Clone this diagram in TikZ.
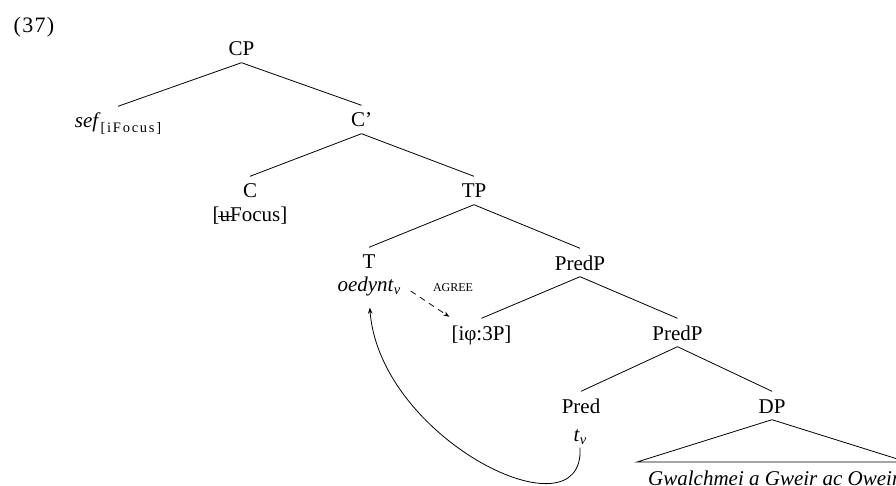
\documentclass[tikz,border=0pt]{standalone}
\usepackage{fontspec}
\setmainfont{Liberation Serif}
\newfontfamily\subfont[LetterSpace=12]{Liberation Serif}
\newfontfamily\exfont[LetterSpace=6]{Liberation Serif}
\usetikzlibrary{arrows.meta,calc}
\newcommand\fsz{\fontsize{21}{25}\selectfont}
\newcommand\struckU{\makebox[0pt][l]{\kern-0.08em\rule[0.23em]{0.66em}{0.06em}}u}
\newcommand\subv{\raisebox{-3.5pt}{\fontsize{14.5}{17}\selectfont\itshape v}}
\begin{document}
\begin{tikzpicture}[x=1pt,y=-1pt,
  lab/.style={anchor=base, inner xsep=1pt, inner ysep=2.5pt, text height=19pt, text depth=4pt, font=\fsz},
  feat/.style={anchor=base, inner xsep=1pt, inner ysep=2.5pt, text height=14pt, text depth=4pt, font=\fsz},
  branch/.style={line width=0.8pt},
  tip/.style={-{Stealth[length=6pt,width=4.5pt]}},
  ]
\useasboundingbox (0,0) rectangle (896,486);
\node[feat, font=\fontsize{22}{26}\exfont] (ex) at (34,33) {(37)};
\node[lab] (sef) at (118,128) {\textit{sef}\raisebox{-4.5pt}{\fontsize{14.5}{17}\subfont [iFocus]}};
\node[lab] (cp) at (241.5,56) {CP};
\node[lab] (cbar) at (361.5,127) {C’};
\node[lab] (c) at (250,198) {C};
\node[feat] (cf) at (250,222) {[\struckU Focus]};
\node[lab] (tp) at (474,198) {TP};
\node[lab] (t) at (369,269) {T};
\node[feat] (oed) at (369,291) {\textit{oedynt}\subv};
\node[lab] (predp) at (580,270) {PredP};
\node[lab] (phi) at (481.5,340) {[iφ:3P]};
\node[lab] (predp2) at (677.5,340) {PredP};
\node[lab] (pred) at (581,413) {Pred};
\node[feat] (tv) at (580,441) {\textit{t}\subv};
\node[lab] (dp) at (772,413) {DP};
\node[feat, anchor=base west, inner xsep=0pt] (gw) at (648,485) {\textit{Gwalchmei a Gweir ac Owein}};
\node[anchor=base, font=\fontsize{12}{14}\selectfont] (agr) at (453,291) {AGREE};
\coordinate (tl) at (637,462);
\coordinate (tr) at (907,462);
\draw[branch] (cp.south) -- (sef.north);
\draw[branch] (cp.south) -- (cbar.north);
\draw[branch] (cbar.south) -- (c.north);
\draw[branch] (cbar.south) -- (tp.north);
\draw[branch] (tp.south) -- (t.north);
\draw[branch] (tp.south) -- (predp.north);
\draw[branch] (predp.south) -- (phi.north);
\draw[branch] (predp.south) -- (predp2.north);
\draw[branch] (predp2.south) -- (pred.north);
\draw[branch] (predp2.south) -- (dp.north);
\draw[branch] (tl) -- (dp.south) -- (tr) -- cycle;
\draw[branch, tip, dash pattern=on 6pt off 5pt] ($(oed.east)+(9,5)$) -- ($(phi.north west)+(-1,-1.5)$);
\draw[branch, tip, shorten >=10pt] (tv.south) .. controls (585,540) and (380,440) .. (oed.south);
\end{tikzpicture}
\end{document}
